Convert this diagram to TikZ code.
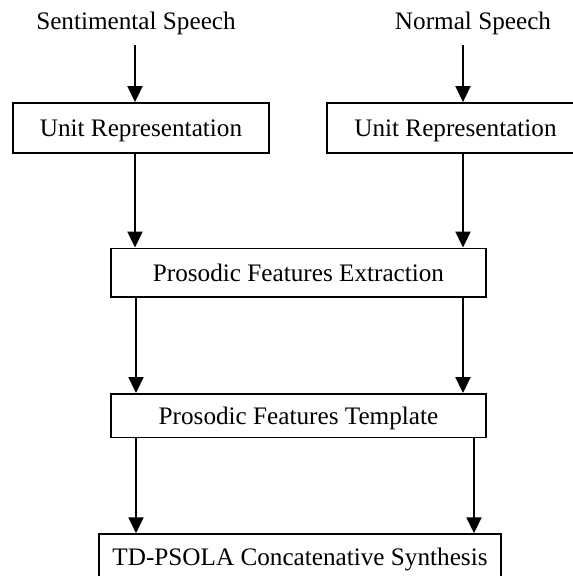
\documentclass[tikz,border=0pt]{standalone}
\usepackage{fontspec}
\setmainfont{Liberation Serif}
\usetikzlibrary{arrows.meta}
\begin{document}
\begin{tikzpicture}[x=1pt,y=-1pt,
  lbl/.style={font=\fontsize{25.2}{30}\selectfont, inner sep=0pt},
  stepbox/.style={draw, line width=1.9pt, inner sep=0pt,
    font=\fontsize{25.2}{30}\selectfont, text height=16.6pt, text depth=0pt},
  arr/.style={line width=1.9pt, -{Triangle[length=16pt,width=15pt]}}]
\clip (0,0) rectangle (573,576);
\fill[white] (0,0) rectangle (573,576);
% input labels
\node[lbl, anchor=base] (sent) at (136,29.5) {Sentimental Speech};
\node[lbl, anchor=base] (norm) at (473,29.5) {Normal Speech};
% boxes
\node[stepbox, minimum width=256.3pt, minimum height=49.7pt] (ul) at (141,127.9) {Unit Representation};
\node[stepbox, minimum width=257pt, minimum height=49.7pt] (ur) at (455.5,127.9) {Unit Representation};
\node[stepbox, minimum width=375pt, minimum height=48.5pt] (pfe) at (298.5,272.75) {Prosodic Features Extraction};
\node[stepbox, minimum width=375pt, minimum height=43.5pt] (pft) at (298.5,415.75) {Prosodic Features Template};
\node[stepbox, minimum width=402pt, minimum height=45.5pt] (td) at (300,557) {TD-PSOLA Concatenative Synthesis};
% arrow columns
\coordinate (xl) at (135,0);
\coordinate (xr) at (463,0);
\coordinate (xl2) at (136,0);
\coordinate (xr2) at (474,0);
\coordinate (s1) at (135,45);
\coordinate (s2) at (463,45);
% connectors
\draw[arr] (s1) -- (ul.north -| s1);
\draw[arr] (s2) -- (ur.north -| s2);
\draw[arr] (ul.south -| xl) -- (pfe.north -| xl);
\draw[arr] (ur.south -| xr) -- (pfe.north -| xr);
\draw[arr] (pfe.south -| xl2) -- (pft.north -| xl2);
\draw[arr] (pfe.south -| xr) -- (pft.north -| xr);
\draw[arr] (pft.south -| xl2) -- (td.north -| xl2);
\draw[arr] (pft.south -| xr2) -- (td.north -| xr2);
\end{tikzpicture}
\end{document}
